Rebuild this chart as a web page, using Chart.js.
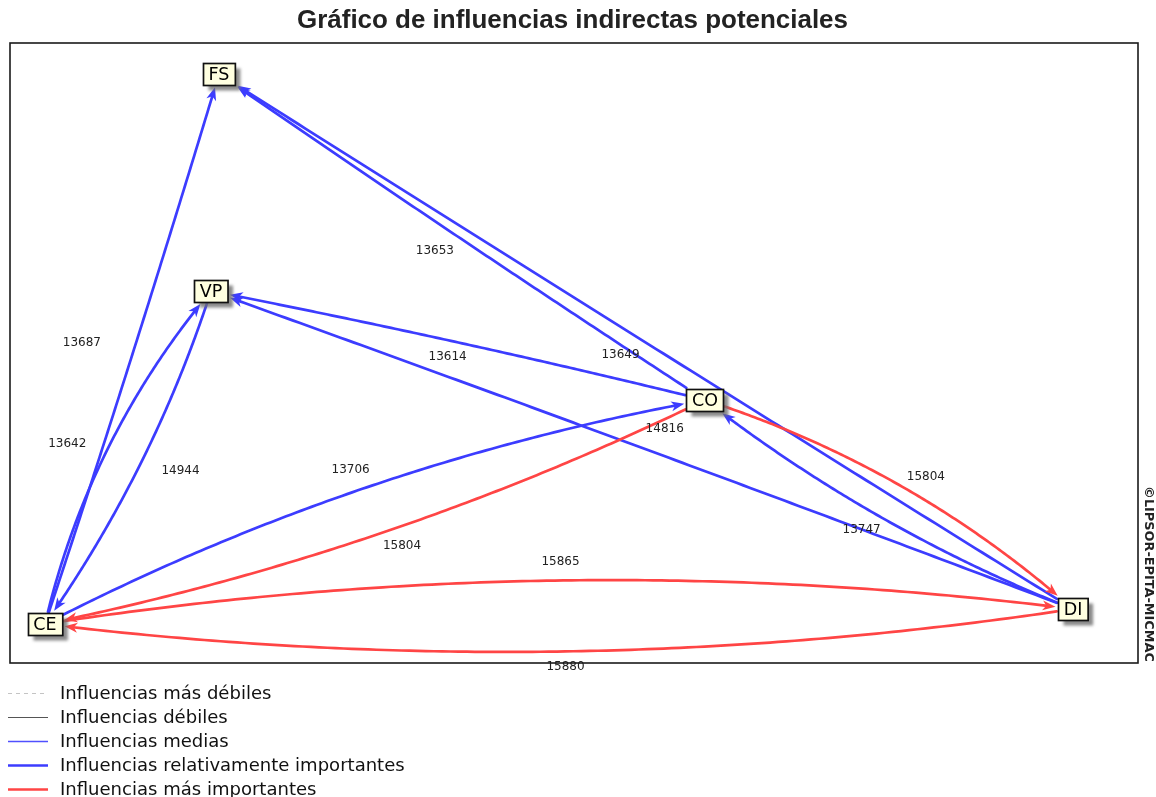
<!DOCTYPE html>
<html><head><meta charset="utf-8">
<script src="https://cdn.jsdelivr.net/npm/chart.js@4.4.1/dist/chart.umd.min.js"></script>
<style>html,body{margin:0;padding:0;background:#fff;overflow:hidden}#wrap{position:relative;width:1156px;height:797px}</style>
</head><body><div id="wrap"><canvas id="c"></canvas></div>
<script>
// ---------- data ----------
const chartTitle = 'Gráfico de influencias indirectas potenciales';
const copyrightText = '©LIPSOR-EPITA-MICMAC';
const nodeNames = ['FS', 'VP', 'CO', 'CE', 'DI'];
const nodeX = [18.53, 17.82, 61.61, 3.10, 94.24];
const nodeY = [95.0, 60.0, 42.42, 6.29, 8.71];
const edgeFrom  = ['CE', 'CE', 'VP', 'CO', 'DI', 'CO', 'DI', 'CE', 'CO', 'CO', 'DI', 'CE', 'DI'];
const edgeTo    = ['FS', 'VP', 'CE', 'FS', 'FS', 'VP', 'VP', 'CO', 'CE', 'DI', 'CO', 'DI', 'CE'];
const edgeValue = [13687, 13642, 14944, 13653, 13649, 13614, 14816, 13706, 15804, 15804, 13747, 15865, 15880];
const edgeClass = [3, 3, 3, 3, 3, 3, 3, 3, 4, 4, 3, 4, 4]; // index into legendLabels
const legendLabels = ['Influencias más débiles', 'Influencias débiles', 'Influencias medias',
  'Influencias relativamente importantes', 'Influencias más importantes'];

// ---------- styles ----------
const edgeBend = [2, -22, -14, -2, -1, 3, 2, -26, -22, -22, -15, -36, -35]; // px bulge at curve middle
const labelOffset = [[-52,-7],[-41,-4],[40,7],[-26,12],[-25,12.5],[-11,14],[22,-19],[-16,-18],[20,13],[26,-8],[-20,12],[2,-19],[6,15]];
const classStyle = [
  {color:'#c4c4c4', width:1, dash:[4,4]},
  {color:'#555555', width:1.2, dash:[]},
  {color:'#5050ff', width:1.6, dash:[]},
  {color:'#3c3cff', width:2.7, dash:[]},
  {color:'#ff4545', width:2.7, dash:[]}
];

function bez(p0,p1,p2,t){const u=1-t;return {x:u*u*p0.x+2*u*t*p1.x+t*t*p2.x, y:u*u*p0.y+2*u*t*p1.y+t*t*p2.y};}
function inBox(p,b,m){return Math.abs(p.x-b.x)<=b.w/2+m && Math.abs(p.y-b.y)<=b.h/2+m;}
function fitSize(ctx,text,weight,family,target){ctx.font=weight+' 100px '+family;return 100*target/ctx.measureText(text).width;}

const graphPlugin = {
  id:'graph',
  afterDatasetsDraw(chart){
    const ctx = chart.ctx, xs = chart.scales.x, ys = chart.scales.y, ca = chart.chartArea;
    const nodeFont = '17.5px "DejaVu Sans"';
    ctx.save();
    ctx.font = nodeFont;
    const boxes = {};
    nodeNames.forEach((n,i)=>{
      const w = ctx.measureText(n).width + 11;
      boxes[n] = {x: xs.getPixelForValue(nodeX[i]), y: ys.getPixelForValue(nodeY[i]), w: w, h: 22};
    });
    // edges
    const labels = [];
    edgeFrom.forEach((f,i)=>{
      const A = boxes[f], B = boxes[edgeTo[i]];
      const dx = B.x-A.x, dy = B.y-A.y, len = Math.hypot(dx,dy);
      const nx = -dy/len, ny = dx/len;
      const C = {x:(A.x+B.x)/2 + nx*2*edgeBend[i], y:(A.y+B.y)/2 + ny*2*edgeBend[i]};
      let t0 = 0; while (t0 < 0.5 && inBox(bez(A,C,B,t0),A,1)) t0 += 0.001;
      let t1 = 1; while (t1 > 0.5 && inBox(bez(A,C,B,t1),B,2)) t1 -= 0.001;
      const E = bez(A,C,B,t1);
      let tl = t1; while (tl > t0 && Math.hypot(bez(A,C,B,tl).x-E.x, bez(A,C,B,tl).y-E.y) < 8) tl -= 0.001;
      const st = classStyle[edgeClass[i]];
      ctx.strokeStyle = st.color; ctx.lineWidth = st.width; ctx.setLineDash(st.dash);
      ctx.lineCap = 'round';
      ctx.beginPath();
      const N = 120;
      for (let k=0;k<=N;k++){const p = bez(A,C,B,t0+(tl-t0)*k/N); if(k===0) ctx.moveTo(p.x,p.y); else ctx.lineTo(p.x,p.y);}
      ctx.stroke();
      // arrowhead
      const P = bez(A,C,B,t1-0.03);
      let ux = E.x-P.x, uy = E.y-P.y; const ul = Math.hypot(ux,uy); ux/=ul; uy/=ul;
      const L = 13, W = 5;
      ctx.fillStyle = st.color; ctx.setLineDash([]);
      ctx.beginPath();
      ctx.moveTo(E.x, E.y);
      ctx.lineTo(E.x-ux*L-uy*W, E.y-uy*L+ux*W);
      ctx.lineTo(E.x-ux*L*0.72, E.y-uy*L*0.72);
      ctx.lineTo(E.x-ux*L+uy*W, E.y-uy*L-ux*W);
      ctx.closePath(); ctx.fill();
      const M = bez(A,C,B,0.5);
      labels.push({x:M.x+labelOffset[i][0], y:M.y+labelOffset[i][1], t:String(edgeValue[i])});
    });
    // edge labels
    ctx.font = '12px "DejaVu Sans"'; ctx.fillStyle = '#222'; ctx.textAlign='center'; ctx.textBaseline='middle';
    labels.forEach(l=>ctx.fillText(l.t,l.x,l.y));
    // nodes
    nodeNames.forEach(n=>{
      const b = boxes[n];
      const x = Math.round(b.x-b.w/2)+0.5, y = Math.round(b.y-b.h/2)+0.5;
      ctx.save();
      ctx.fillStyle = 'rgba(110,110,110,0.8)';
      ctx.filter = 'blur(1.5px)';
      ctx.fillRect(x+5, y+5, b.w, b.h);
      ctx.restore();
      ctx.fillStyle = '#ffffe0'; ctx.fillRect(x,y,b.w,b.h);
      ctx.strokeStyle = '#111'; ctx.lineWidth = 1.7; ctx.strokeRect(x,y,b.w,b.h);
      ctx.fillStyle = '#000'; ctx.font = nodeFont; ctx.textAlign='center'; ctx.textBaseline='middle';
      ctx.fillText(n, b.x, b.y+1);
    });
    // plot border
    ctx.strokeStyle = '#1a1a1a'; ctx.lineWidth = 1.6; ctx.setLineDash([]);
    ctx.strokeRect(ca.left, ca.top, ca.right-ca.left, ca.bottom-ca.top);
    ctx.restore();
  },
  afterDraw(chart){
    const ctx = chart.ctx, ca = chart.chartArea;
    ctx.save();
    // title
    const ts = fitSize(ctx, chartTitle, 'bold', '"Liberation Sans"', 551);
    ctx.font = 'bold '+ts.toFixed(2)+'px "Liberation Sans"';
    ctx.fillStyle = '#222'; ctx.textAlign='center'; ctx.textBaseline='middle';
    ctx.fillText(chartTitle, 572.5, 21);
    // copyright
    const cs = fitSize(ctx, copyrightText, 'bold', '"DejaVu Sans"', 176);
    ctx.save();
    ctx.translate(ca.right+10, 574); ctx.rotate(Math.PI/2);
    ctx.font = 'bold '+cs.toFixed(2)+'px "DejaVu Sans"'; ctx.fillStyle='#222';
    ctx.textAlign='center'; ctx.textBaseline='middle';
    ctx.fillText(copyrightText, 0, 0);
    ctx.restore();
    // legend
    const ls = fitSize(ctx, legendLabels[3], 'normal', '"DejaVu Sans"', 345);
    legendLabels.forEach((lab,i)=>{
      const y = ca.bottom + 30 + i*24;
      const st = classStyle[i];
      ctx.strokeStyle = st.color; ctx.lineWidth = st.width; ctx.setLineDash(st.dash);
      ctx.beginPath(); ctx.moveTo(8, y+0.5); ctx.lineTo(48, y+0.5); ctx.stroke();
      ctx.setLineDash([]);
      ctx.font = 'normal '+ls.toFixed(2)+'px "DejaVu Sans"'; ctx.fillStyle='#111';
      ctx.textAlign='left'; ctx.textBaseline='middle';
      ctx.fillText(lab, 60, y+1);
    });
    ctx.restore();
  }
};

new Chart(document.getElementById('c'), {
  type: 'scatter',
  data: { datasets: [{ label: 'Variables', data: nodeNames.map((n,i)=>({x:nodeX[i], y:nodeY[i]})), pointRadius: 0, pointHoverRadius: 0 }] },
  options: {
    responsive: true, maintainAspectRatio: false, animation: false, events: [],
    layout: { padding: { left: 10, top: 43, right: 18, bottom: 134 } },
    scales: { x: { display: false, min: 0, max: 100 }, y: { display: false, min: 0, max: 100 } },
    plugins: { legend: { display: false }, tooltip: { enabled: false }, title: { display: false } }
  },
  plugins: [graphPlugin]
});
</script></body></html>
